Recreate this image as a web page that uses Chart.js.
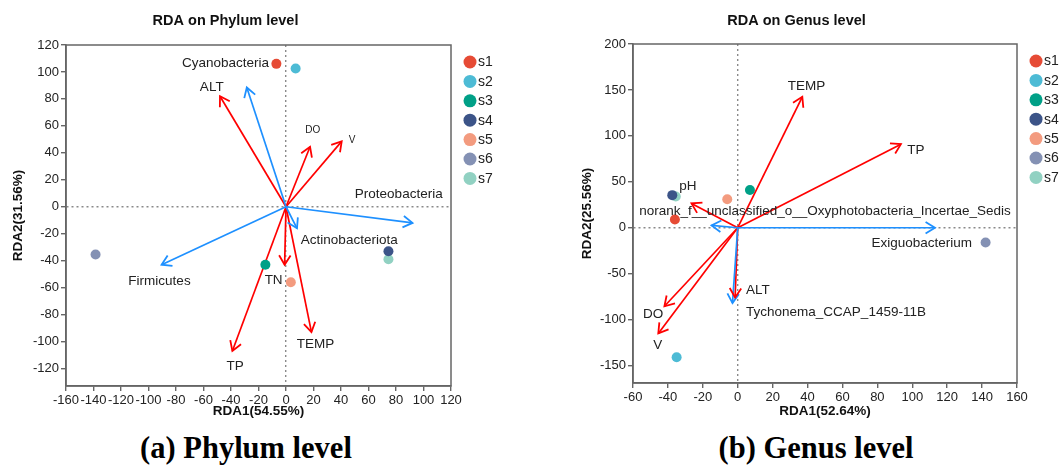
<!DOCTYPE html>
<html>
<head>
<meta charset="utf-8">
<script src="https://cdn.jsdelivr.net/npm/chart.js@4.4.0/dist/chart.umd.min.js"></script>
<style>
  body { margin: 0; background: #fff; }
  #wrap { position: relative; width: 1060px; height: 472px; overflow: hidden; }
  canvas { position: absolute; top: 0; }
  #leftChart { left: 0; }
  #rightChart { left: 576px; }
  .caption {
    position: absolute; top: 431px; font-family: "Liberation Serif", serif;
    font-weight: bold; font-size: 30.5px; color: #000; white-space: nowrap;
    transform: translateX(-50%);
  }
</style>
</head>
<body>
<div id="wrap">
  <canvas id="leftChart" width="500" height="430"></canvas>
  <canvas id="rightChart" width="484" height="430"></canvas>
  <div class="caption" style="left:246px">(a) Phylum level</div>
  <div class="caption" style="left:816px">(b) Genus level</div>
</div>
<script>
// samples
const sampleNames = ['s1', 's2', 's3', 's4', 's5', 's6', 's7'];
const sampleColors = ['#E64B35', '#4DBBD5', '#00A087', '#3C5488', '#F39B7F', '#8491B4', '#91D1C2'];

// Phylum level
const phylumSampleX = [-7, 7, -15, 74.5, 3.5, -138.5, 74.5];
const phylumSampleY = [106, 102.5, -43, -33, -56, -35.5, -39];
const phylumEnvNames = ['ALT', 'DO', 'V', 'TP', 'TN', 'TEMP'];
const phylumEnvX = [-48, 17.5, 40.5, -39, -1, 18.5];
const phylumEnvY = [82, 44.5, 48.5, -107, -43, -93];
const phylumEnvLabelX = [-54, 19.5, 48, -37, -9, 21.5];
const phylumEnvLabelY = [89, 57, 49, -118, -54.5, -102];
const phylumTaxaNames = ['Cyanobacteria', 'Proteobacteria', 'Firmicutes', 'Actinobacteriota'];
const phylumTaxaX = [-28.5, 92, -90.5, 8];
const phylumTaxaY = [88.5, -12, -43, -16];
const phylumTaxaLabelX = [-44, 82, -92, 46];
const phylumTaxaLabelY = [106.5, 9, -55, -25];
const phylumXTicks = [-160, -140, -120, -100, -80, -60, -40, -20, 0, 20, 40, 60, 80, 100, 120];
const phylumYTicks = [-120, -100, -80, -60, -40, -20, 0, 20, 40, 60, 80, 100, 120];

// Genus level
const genusSampleX = [-36, -35, 7, -37.5, -6, 142, -35.5];
const genusSampleY = [9, -141, 41, 35.5, 31, -16, 34];
const genusEnvNames = ['TEMP', 'TP', 'pH', 'ALT', 'DO', 'V'];
const genusEnvX = [37, 93.5, -26.5, -1.5, -42, -45.5];
const genusEnvY = [142.5, 91, 26.5, -76, -85.5, -115];
const genusEnvLabelX = [39.4, 102, -28.5, 11.6, -48.5, -45.8];
const genusEnvLabelY = [154, 84, 45, -67.7, -94.4, -128];
const genusTaxaNames = ['Exiguobacterium', 'norank_f__unclassified_o__Oxyphotobacteria_Incertae_Sedis', 'Tychonema_CCAP_1459-11B'];
const genusTaxaX = [113, -15, -3];
const genusTaxaY = [0, 2.5, -82];
const genusTaxaLabelX = [105.4, 50, 56.3];
const genusTaxaLabelY = [-17.3, 18, -92];
const genusXTicks = [-60, -40, -20, 0, 20, 40, 60, 80, 100, 120, 140, 160];
const genusYTicks = [-150, -100, -50, 0, 50, 100, 150, 200];

const RED = '#FF0000';
const BLUE = '#1E90FF';
const FONT = '"Liberation Sans", Arial, sans-serif';
const smallLabels = ['DO', 'V'];

function sampleSets(xs, ys) {
    return sampleNames.map((n, i) => ({
        label: n,
        data: [{ x: xs[i], y: ys[i] }],
        backgroundColor: sampleColors[i],
        borderWidth: 0,
        pointRadius: 5,
        sample: true
    }));
}

function arrowSets(names, xs, ys, lx, ly, color) {
    return names.map((n, i) => ({
        label: n,
        data: [{ x: 0, y: 0 }, { x: xs[i], y: ys[i] }],
        showLine: true,
        borderColor: color,
        borderWidth: 1.7,
        pointRadius: 0,
        arrow: true,
        tag: { x: lx[i], y: ly[i] }
    }));
}

// frame around plot, arrow heads, labels, legend
const rdaPlugin = {
    id: 'rda',
    beforeDatasetsDraw(chart) {
        const a = chart.chartArea, c = chart.ctx;
        c.save();
        c.strokeStyle = '#666';
        c.lineWidth = 1.5;
        c.strokeRect(a.left, a.top, a.right - a.left, a.bottom - a.top);
        c.restore();
    },
    afterDatasetsDraw(chart, args, opts) {
        const c = chart.ctx;
        const xs = chart.scales.x, ys = chart.scales.y;
        c.save();
        chart.data.datasets.forEach((ds, i) => {
            if (!ds.arrow) return;
            const pts = chart.getDatasetMeta(i).data;
            const p0 = pts[0], p1 = pts[1];
            const ang = Math.atan2(p1.y - p0.y, p1.x - p0.x);
            const len = 11, spread = 0.55;
            c.strokeStyle = ds.borderColor;
            c.lineWidth = 1.8;
            c.beginPath();
            c.moveTo(p1.x - len * Math.cos(ang - spread), p1.y - len * Math.sin(ang - spread));
            c.lineTo(p1.x, p1.y);
            c.lineTo(p1.x - len * Math.cos(ang + spread), p1.y - len * Math.sin(ang + spread));
            c.stroke();
        });
        // labels
        c.fillStyle = '#222';
        c.textAlign = 'center';
        c.textBaseline = 'middle';
        chart.data.datasets.forEach(ds => {
            if (!ds.arrow) return;
            const small = opts.small && smallLabels.includes(ds.label);
            c.font = (small ? '10px ' : '13.5px ') + FONT;
            c.fillText(ds.label, xs.getPixelForValue(ds.tag.x), ys.getPixelForValue(ds.tag.y));
        });
        // legend
        const a = chart.chartArea;
        c.textAlign = 'left';
        c.font = '14px ' + FONT;
        chart.data.datasets.forEach(ds => {
            if (!ds.sample) return;
            const k = sampleNames.indexOf(ds.label);
            const y = a.top + 17 + k * 19.4;
            c.fillStyle = ds.backgroundColor;
            c.beginPath();
            c.arc(a.right + 19, y, 6.5, 0, Math.PI * 2);
            c.fill();
            c.fillStyle = '#222';
            c.fillText(ds.label, a.right + 27, y + 0.5);
        });
        c.restore();
    }
};

function axis(cfg) {
    return {
        type: 'linear',
        position: cfg.position,
        min: cfg.min,
        max: cfg.max,
        afterBuildTicks: s => { s.ticks = cfg.ticks.map(v => ({ value: v })); },
        afterFit: s => {
            if (cfg.position === 'left') s.width = cfg.size; else s.height = cfg.size;
        },
        ticks: {
            autoSkip: false, maxRotation: 0, minRotation: 0, padding: 2,
            color: '#222', font: { family: FONT, size: 13 }
        },
        grid: {
            color: ctx => (ctx.tick && ctx.tick.value === 0 ? '#8a8a8a' : 'transparent'),
            lineWidth: 1.4,
            tickColor: '#666',
            tickLength: 5,
            tickWidth: 1.4
        },
        border: { display: true, color: '#666', width: 1.5, dash: [2, 3] },
        title: {
            display: true, text: cfg.title, color: '#111',
            font: { family: FONT, size: 13.5, weight: 'bold' },
            padding: cfg.titlePad
        }
    };
}

function makeChart(id, o) {
    return new Chart(document.getElementById(id), {
        type: 'scatter',
        data: {
            datasets: sampleSets(o.sx, o.sy)
                .concat(arrowSets(o.taxa, o.tx, o.ty, o.tlx, o.tly, BLUE))
                .concat(arrowSets(o.env, o.ex, o.ey, o.elx, o.ely, RED))
        },
        options: {
            responsive: false,
            animation: false,
            devicePixelRatio: 1,
            events: [],
            layout: { padding: { left: 0, right: o.padRight, top: 0, bottom: 0 } },
            plugins: {
                legend: { display: false },
                tooltip: { enabled: false },
                title: {
                    display: true, text: o.title, color: '#111',
                    font: { family: FONT, size: 14.5, weight: 'bold' },
                    padding: { top: 12, bottom: o.titleBottom }
                },
                rda: { small: o.small }
            },
            scales: {
                x: axis({ position: 'bottom', min: o.xmin, max: o.xmax, ticks: o.xticks, size: o.xSize,
                          title: o.xtitle, titlePad: { top: 0, bottom: o.xTitlePad } }),
                y: axis({ position: 'left', min: o.ymin, max: o.ymax, ticks: o.yticks, size: o.ySize,
                          title: o.ytitle, titlePad: { top: o.yTitlePad, bottom: 0 } })
            }
        },
        plugins: [rdaPlugin]
    });
}

makeChart('leftChart', {
    title: 'RDA on Phylum level', xtitle: 'RDA1(54.55%)', ytitle: 'RDA2(31.56%)',
    sx: phylumSampleX, sy: phylumSampleY,
    taxa: phylumTaxaNames, tx: phylumTaxaX, ty: phylumTaxaY, tlx: phylumTaxaLabelX, tly: phylumTaxaLabelY,
    env: phylumEnvNames, ex: phylumEnvX, ey: phylumEnvY, elx: phylumEnvLabelX, ely: phylumEnvLabelY,
    xmin: -160, xmax: 120, ymin: -133, ymax: 120, xticks: phylumXTicks, yticks: phylumYTicks,
    padRight: 49, titleBottom: 15.6, xSize: 44, ySize: 66, xTitlePad: 10.9, yTitlePad: 9.9, small: true
});

makeChart('rightChart', {
    title: 'RDA on Genus level', xtitle: 'RDA1(52.64%)', ytitle: 'RDA2(25.56%)',
    sx: genusSampleX, sy: genusSampleY,
    taxa: genusTaxaNames, tx: genusTaxaX, ty: genusTaxaY, tlx: genusTaxaLabelX, tly: genusTaxaLabelY,
    env: genusEnvNames, ex: genusEnvX, ey: genusEnvY, elx: genusEnvLabelX, ely: genusEnvLabelY,
    xmin: -60, xmax: 160, ymin: -169, ymax: 200, xticks: genusXTicks, yticks: genusYTicks,
    padRight: 43, titleBottom: 14.6, xSize: 47, ySize: 57, xTitlePad: 10.2, yTitlePad: 2.9, small: false
});
</script>
</body>
</html>
